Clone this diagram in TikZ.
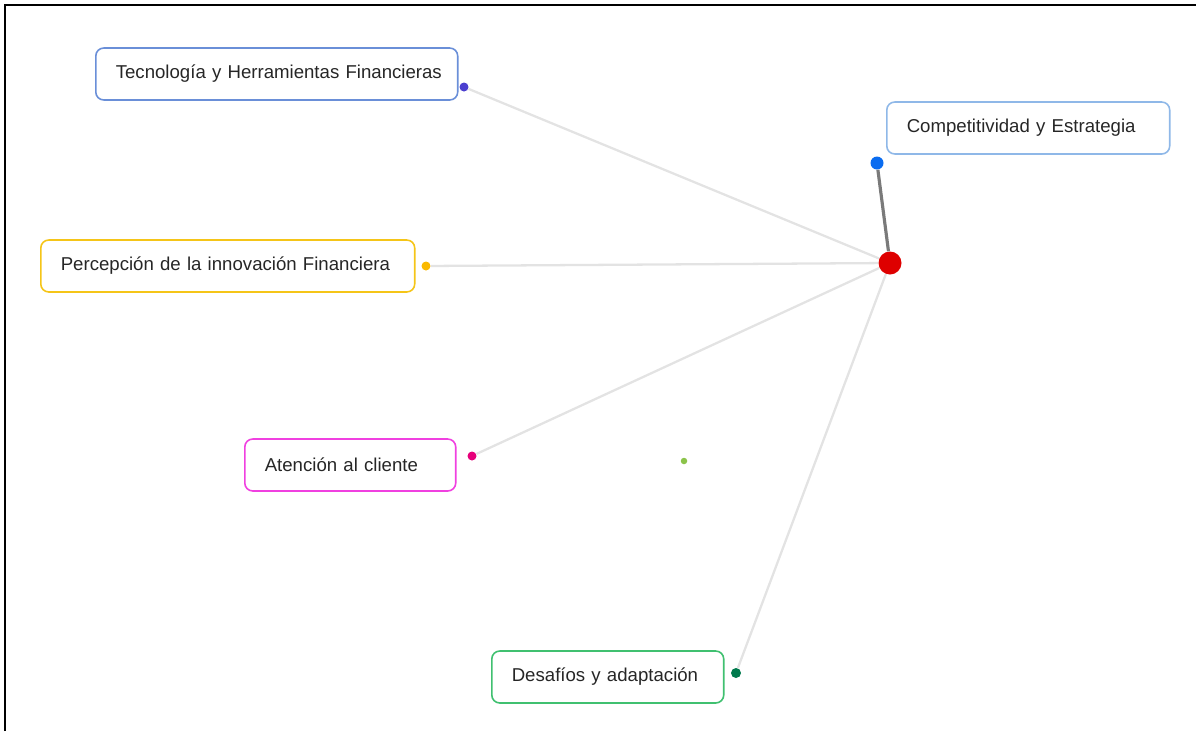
\documentclass[tikz,border=0pt]{standalone}
\usepackage{fontspec}
\setmainfont{Liberation Sans}
\definecolor{techline}{RGB}{106,143,216}
\definecolor{compline}{RGB}{143,184,232}
\definecolor{percline}{RGB}{245,197,24}
\definecolor{atenline}{RGB}{240,64,224}
\definecolor{desline}{RGB}{64,192,112}
\definecolor{techdot}{RGB}{75,63,207}
\definecolor{compdot}{RGB}{10,108,240}
\definecolor{percdot}{RGB}{250,185,0}
\definecolor{atendot}{RGB}{230,0,122}
\definecolor{desdot}{RGB}{0,122,77}
\definecolor{loosedot}{RGB}{139,195,74}
\definecolor{hubred}{RGB}{222,0,0}
\definecolor{linkgray}{RGB}{227,227,227}
\definecolor{darklink}{RGB}{122,122,122}
\begin{document}
\begin{tikzpicture}[x=0.02cm, y=-0.02cm,
  topic/.style = {shape=rectangle, rounded corners=0.16cm, draw, line width=0.9pt,
    anchor=west, align=left, minimum height=1.04cm, inner xsep=0.4cm,
    font=\fontsize{10.6}{13}\selectfont, text=black!85},
  dot/.style = {shape=circle, fill, inner sep=0pt, minimum size=#1},
  link/.style = {draw=linkgray, line width=1.3pt},
  mainlink/.style = {draw=darklink, line width=1.8pt}
  ]
  \useasboundingbox (0,0) rectangle (1198,731);
  \draw[line width=1.2pt] (5,731) -- (5,5) -- (1196,5);
  % topics
  \node[topic, draw=techline, text width=6.44cm] (tech) at (95,74) {\mbox{Tecnología y Herramientas Financieras}};
  \node[topic, draw=compline, text width=4.86cm] (comp) at (886,128) {Competitividad y Estrategia};
  \node[topic, draw=percline, text width=6.68cm] (perc) at (40,266) {Percepción de la innovación Financiera};
  \node[topic, draw=atenline, text width=3.42cm] (aten) at (244,465) {Atención al cliente};
  \node[topic, draw=desline, text width=3.84cm] (des) at (491,677) {Desafíos y adaptación};
  % dots
  \node[dot=0.46cm, hubred] (hub) at (890,263) {};
  \node[dot=0.18cm, techdot] (techdot) at (464,87) {};
  \node[dot=0.26cm, compdot] (compdot) at (877,163) {};
  \node[dot=0.18cm, percdot] (percdot) at (426,266) {};
  \node[dot=0.18cm, atendot] (atendot) at (472,456) {};
  \node[dot=0.2cm, desdot] (desdot) at (736,673) {};
  \node[dot=0.13cm, loosedot] (loose) at (684,461) {};
  % links
  \draw[mainlink] (hub) -- (compdot);
  \draw[link] (hub) -- (techdot);
  \draw[link] (hub) -- (percdot);
  \draw[link] (hub) -- (atendot);
  \draw[link] (hub) -- (desdot);
\end{tikzpicture}
\end{document}
